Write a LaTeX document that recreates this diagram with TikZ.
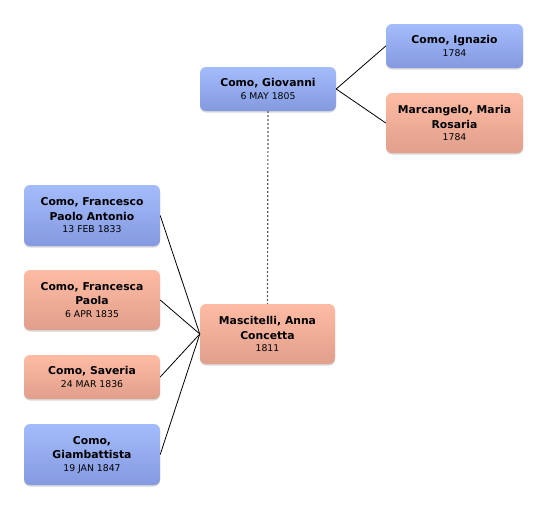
\documentclass[tikz,border=0pt]{standalone}
\usepackage{fontspec}
\setmainfont{DejaVu Sans}
\usetikzlibrary{shadows}
\definecolor{bluetop}{HTML}{A4BCFC}
\definecolor{bluebot}{HTML}{8499DF}
\definecolor{saltop}{HTML}{FFBBA3}
\definecolor{salbot}{HTML}{E09F8C}
\tikzset{
  person/.style={rounded corners=6pt, inner sep=0pt, align=center,
    drop shadow={shadow xshift=0pt, shadow yshift=-1.5pt, opacity=0.25, fill=black!60},
    font=\fontsize{10.8}{14.5}\selectfont\bfseries},
  male/.style={person, top color=bluetop, bottom color=bluebot},
  female/.style={person, top color=saltop, bottom color=salbot},
  link/.style={line width=0.8pt, black},
  marriage/.style={line width=1.2pt, gray!70!black, dash pattern=on 2pt off 2pt},
}
\newcommand{\dt}[1]{\\[-2pt]{\fontsize{9.3}{11}\selectfont\mdseries #1}}
\begin{document}
\begin{tikzpicture}[x=1pt,y=-1pt]
\useasboundingbox[fill=white] (0,0) rectangle (546,509);
\node[male, minimum width=136pt, minimum height=44pt] (giov) at (268,89) {Como, Giovanni\dt{6 MAY 1805}};
\node[male, minimum width=137pt, minimum height=44pt] (ign) at (454.5,46) {Como, Ignazio\dt{1784}};
\node[female, minimum width=137pt, minimum height=60pt] (marc) at (454.5,123) {Marcangelo, Maria\\Rosaria\dt{1784}};
\node[female, minimum width=135pt, minimum height=60pt] (anna) at (267.5,334) {Mascitelli, Anna\\Concetta\dt{1811}};
\node[male, minimum width=136pt, minimum height=61pt] (fpa) at (92,215.5) {Como, Francesco\\Paolo Antonio\dt{13 FEB 1833}};
\node[female, minimum width=136pt, minimum height=60pt] (fp) at (92,300) {Como, Francesca\\Paola\dt{6 APR 1835}};
\node[female, minimum width=136pt, minimum height=44pt] (sav) at (92,377) {Como, Saveria\dt{24 MAR 1836}};
\node[male, minimum width=136pt, minimum height=61pt] (giam) at (92,454.5) {Como,\\Giambattista\dt{19 JAN 1847}};
\draw[link] (giov.east) -- (ign.west);
\draw[link] (giov.east) -- (marc.west);
\draw[marriage] (giov.south) -- (anna.north);
\foreach \c in {fpa,fp,sav,giam} \draw[link] (\c.east) -- (anna.west);
\end{tikzpicture}
\end{document}
